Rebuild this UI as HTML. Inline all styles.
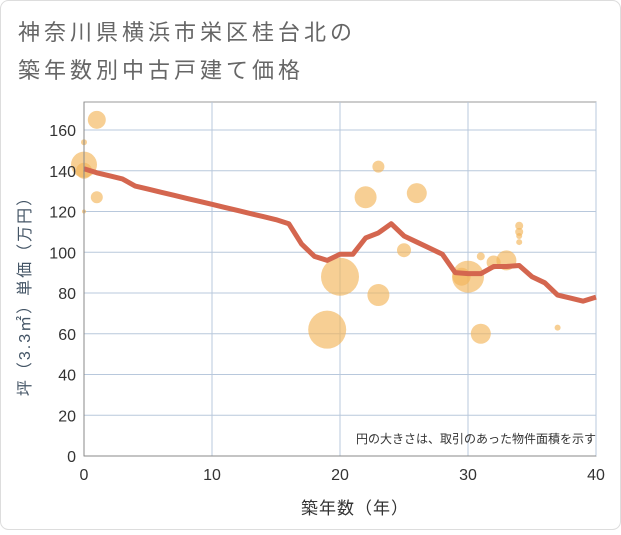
<!DOCTYPE html>
<html><head><meta charset="utf-8"><style>
body{margin:0;background:#fff;}
#wrap{position:relative;width:621px;height:530px;font-family:"Liberation Sans","Noto Sans CJK JP",sans-serif;}
</style></head><body>
<div id="wrap">
<svg id="c" width="621" height="530" xmlns="http://www.w3.org/2000/svg">
<rect x="0.5" y="0.5" width="620" height="529" rx="8" fill="#fff" stroke="#ddd"/>
<text x="18" y="40" font-size="22" letter-spacing="4" fill="#666" font-family="Liberation Sans, Noto Sans CJK JP, sans-serif">神奈川県横浜市栄区桂台北の</text>
<text x="18" y="78" font-size="22" letter-spacing="4" fill="#666" font-family="Liberation Sans, Noto Sans CJK JP, sans-serif">築年数別中古戸建て価格</text>
<g id="grid"></g><g id="bub"></g><g id="ln"></g><g id="ax"></g>
<text x="596" y="443" font-size="12" fill="#333" text-anchor="end" font-family="Liberation Sans, Noto Sans CJK JP, sans-serif">円の大きさは、取引のあった物件面積を示す</text>
<text x="355" y="514" font-size="17" letter-spacing="1" fill="#333" text-anchor="middle" font-family="Liberation Sans, Noto Sans CJK JP, sans-serif">築年数（年）</text>
<text transform="translate(30,292) rotate(-90)" font-size="16" letter-spacing="2" fill="#456" text-anchor="middle" font-family="Liberation Sans, Noto Sans CJK JP, sans-serif">坪（3.3㎡）単価（万円）</text>
</svg></div>
<script>
const xTicks=[0,10,20,30,40];
const yTicks=[0,20,40,60,80,100,120,140,160];
const lineYears=[0,1,2,3,4,5,6,7,8,9,10,11,12,13,14,15,16,17,18,19,20,21,22,23,24,25,26,27,28,29,30,31,32,33,34,35,36,37,38,39,40];
const lineValues=[141,139,137.5,136,132.5,131,129.5,128,126.5,125,123.5,122,120.5,119,117.5,116,114,104,98,96,99,99,107,109.5,114,108,105,102,99,90,89.5,89.5,93,93,93.5,88,85,79,77.5,76,78];
const bubbleYears=[0,0,0,0,1,1,19,20,23,22,23,25,26,29.5,30,31,31,32,33,34,34,34,34,37];
const bubbleValues=[143,140,154,120,165,127,62,88,142,127,79,101,129,88,88,98,60,95,96,113,110,108,105,63];
const bubbleSizes=[13,8,3,2,9,6,19,19,6,11,11,7,10,9,16,4,10,7,10,4,4,3,3,3];
const X0=84,X1=596,Y0=456,Y1=130;
const sx=v=>X0+(X1-X0)*v/40, sy=v=>Y0-(Y0-Y1)*v/160;
const NS="http://www.w3.org/2000/svg";
function mk(t,a,p){const e=document.createElementNS(NS,t);for(const k in a)e.setAttribute(k,a[k]);p.appendChild(e);return e;}
const g=document.getElementById('grid'),ax=document.getElementById('ax'),b=document.getElementById('bub'),ln=document.getElementById('ln');
mk('rect',{x:X0,y:102,width:X1-X0,height:Y0-102,fill:'#fff',stroke:'#999'},g);
xTicks.forEach(t=>{const l=mk('line',{x1:sx(t),x2:sx(t),y1:102,y2:Y0,stroke:'#b8c8dc'},g);


const tx=mk('text',{x:sx(t),y:480,'font-size':16,fill:'#333','text-anchor':'middle'},ax);tx.textContent=t;

});
yTicks.forEach(t=>{const l=mk('line',{x1:X0,x2:X1,y1:sy(t),y2:sy(t),stroke:'#b8c8dc'},g);


const tx=mk('text',{x:76,y:sy(t)+6,'font-size':16,fill:'#333','text-anchor':'end'},ax);tx.textContent=t;

});
mk('line',{x1:X0,x2:X0,y1:102,y2:Y0,stroke:'#888'},ax);
mk('line',{x1:X0,x2:X1,y1:Y0,y2:Y0,stroke:'#888'},ax);
bubbleYears.forEach((y,i)=>{const c=mk('circle',{cx:sx(y),cy:sy(bubbleValues[i]),r:bubbleSizes[i],fill:'#f2b65a','fill-opacity':0.65},b);

});
const p=mk('polyline',{points:lineYears.map((y,i)=>sx(y)+','+sy(lineValues[i])).join(' '),fill:'none',stroke:'#d4664f','stroke-width':5,'stroke-linejoin':'round'},ln);


</script>
</body></html>
